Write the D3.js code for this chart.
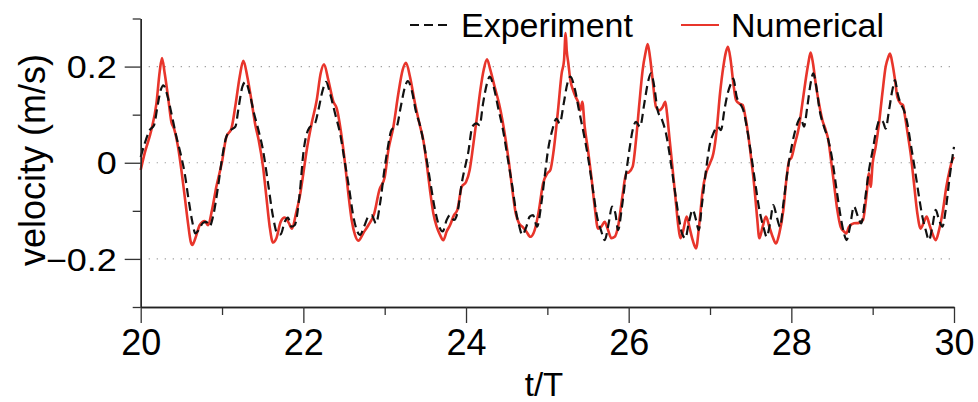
<!DOCTYPE html>
<html>
<head>
<meta charset="utf-8">
<script src="https://cdn.jsdelivr.net/npm/d3@7"></script>
<style>
  body { margin: 0; background: #fff; }
  text { font-family: "Liberation Sans", Arial, Helvetica, sans-serif; fill: #000; }
</style>
</head>
<body>
<div id="chart"></div>
<script>
// Data: [t/T, velocity (m/s)]
const experiment = [
  [20.000,0.012],[20.049,0.040],[20.111,0.068],[20.164,0.078],[20.205,0.116],[20.246,0.151],[20.279,0.161],[20.328,0.140],[20.377,0.103],[20.439,0.054],[20.500,0.012],[20.541,-0.022],[20.590,-0.078],[20.635,-0.123],[20.672,-0.147],[20.713,-0.140],[20.766,-0.125],[20.807,-0.123],[20.848,-0.132],[20.889,-0.112],[20.951,-0.050],
  [21.000,0.009],[21.053,0.054],[21.115,0.069],[21.164,0.075],[21.205,0.116],[21.250,0.158],[21.287,0.168],[21.340,0.144],[21.393,0.103],[21.443,0.071],[21.504,0.026],[21.566,-0.043],[21.627,-0.112],[21.680,-0.147],[21.721,-0.149],[21.770,-0.123],[21.811,-0.114],[21.852,-0.133],[21.893,-0.130],[21.955,-0.064],
  [22.000,0.020],[22.074,0.073],[22.143,0.082],[22.184,0.109],[22.238,0.151],[22.279,0.168],[22.328,0.144],[22.389,0.103],[22.451,0.061],[22.512,-0.001],[22.566,-0.057],[22.615,-0.112],[22.664,-0.143],[22.697,-0.150],[22.746,-0.133],[22.799,-0.112],[22.840,-0.109],[22.893,-0.126],[22.943,-0.085],
  [23.000,-0.010],[23.033,0.026],[23.086,0.069],[23.148,0.076],[23.197,0.116],[23.250,0.158],[23.283,0.170],[23.332,0.151],[23.385,0.106],[23.434,0.078],[23.496,0.026],[23.557,-0.036],[23.619,-0.098],[23.672,-0.133],[23.713,-0.143],[23.762,-0.119],[23.803,-0.109],[23.852,-0.119],[23.893,-0.105],[23.947,-0.043],
  [24.000,0.000],[24.025,0.019],[24.078,0.075],[24.127,0.082],[24.168,0.078],[24.209,0.123],[24.258,0.165],[24.291,0.179],[24.340,0.158],[24.393,0.116],[24.455,0.068],[24.516,0.006],[24.570,-0.050],[24.611,-0.098],[24.652,-0.130],[24.692,-0.150],[24.742,-0.133],[24.783,-0.112],[24.824,-0.109],[24.873,-0.133],[24.926,-0.085],[24.967,-0.029],
  [25.008,0.026],[25.061,0.068],[25.111,0.092],[25.152,0.082],[25.201,0.123],[25.246,0.165],[25.283,0.179],[25.336,0.155],[25.389,0.109],[25.447,0.061],[25.500,0.012],[25.561,-0.057],[25.611,-0.112],[25.664,-0.143],[25.705,-0.161],[25.754,-0.126],[25.795,-0.091],[25.836,-0.105],[25.869,-0.140],[25.918,-0.091],[25.963,-0.029],
  [26.008,0.026],[26.049,0.068],[26.090,0.085],[26.139,0.075],[26.192,0.123],[26.234,0.165],[26.274,0.186],[26.315,0.158],[26.356,0.109],[26.410,0.089],[26.459,0.061],[26.508,0.012],[26.561,-0.050],[26.615,-0.112],[26.656,-0.147],[26.697,-0.157],[26.738,-0.126],[26.787,-0.098],[26.828,-0.119],[26.861,-0.140],[26.902,-0.085],[26.951,-0.015],
  [27.000,0.040],[27.041,0.061],[27.094,0.075],[27.135,0.068],[27.176,0.109],[27.217,0.144],[27.258,0.165],[27.287,0.175],[27.328,0.137],[27.369,0.123],[27.410,0.109],[27.451,0.075],[27.504,0.019],[27.557,-0.043],[27.607,-0.098],[27.656,-0.133],[27.697,-0.154],[27.738,-0.126],[27.779,-0.088],[27.820,-0.112],[27.861,-0.133],[27.902,-0.085],[27.955,-0.015],
  [28.000,0.030],[28.061,0.075],[28.115,0.094],[28.155,0.075],[28.196,0.116],[28.237,0.165],[28.270,0.186],[28.307,0.158],[28.348,0.109],[28.401,0.075],[28.455,0.047],[28.504,0.006],[28.557,-0.057],[28.606,-0.112],[28.647,-0.147],[28.680,-0.161],[28.721,-0.133],[28.770,-0.091],[28.819,-0.112],[28.860,-0.126],[28.905,-0.078],[28.955,-0.015],
  [29.000,0.026],[29.045,0.068],[29.086,0.089],[29.127,0.085],[29.160,0.071],[29.201,0.109],[29.242,0.151],[29.275,0.172],[29.307,0.144],[29.344,0.123],[29.385,0.109],[29.426,0.082],[29.467,0.040],[29.520,-0.015],[29.570,-0.071],[29.611,-0.112],[29.652,-0.140],[29.693,-0.161],[29.734,-0.133],[29.775,-0.098],[29.816,-0.119],[29.857,-0.133],[29.898,-0.098],[29.947,-0.029],[30.000,0.033]
];

const numerical = [
  [20.000,-0.015],[20.049,0.020],[20.131,0.068],[20.193,0.123],[20.234,0.190],[20.262,0.218],[20.295,0.186],[20.336,0.137],[20.377,0.085],[20.410,0.071],[20.459,0.033],[20.500,-0.015],[20.541,-0.070],[20.582,-0.126],[20.615,-0.164],[20.635,-0.171],[20.672,-0.157],[20.725,-0.130],[20.787,-0.121],[20.828,-0.130],[20.877,-0.098],[20.930,-0.050],
  [21.000,0.002],[21.053,0.054],[21.115,0.071],[21.168,0.123],[21.217,0.179],[21.262,0.212],[21.311,0.179],[21.361,0.130],[21.410,0.078],[21.451,0.047],[21.504,-0.008],[21.545,-0.071],[21.586,-0.133],[21.627,-0.166],[21.668,-0.157],[21.721,-0.123],[21.770,-0.114],[21.820,-0.125],[21.861,-0.137],[21.910,-0.105],[21.955,-0.071],
  [22.000,-0.022],[22.041,0.026],[22.102,0.082],[22.164,0.130],[22.213,0.186],[22.254,0.205],[22.307,0.172],[22.369,0.127],[22.410,0.113],[22.471,0.054],[22.512,-0.001],[22.553,-0.064],[22.594,-0.119],[22.635,-0.150],[22.676,-0.162],[22.738,-0.146],[22.799,-0.130],[22.869,-0.107],[22.934,-0.057],
  [23.000,-0.030],[23.045,0.026],[23.107,0.075],[23.168,0.144],[23.221,0.193],[23.262,0.208],[23.311,0.179],[23.373,0.123],[23.426,0.082],[23.475,0.047],[23.516,-0.001],[23.557,-0.057],[23.598,-0.105],[23.639,-0.133],[23.680,-0.150],[23.721,-0.161],[23.762,-0.143],[23.803,-0.130],[23.852,-0.109],[23.893,-0.098],[23.947,-0.050],
  [24.000,-0.040],[24.045,-0.015],[24.086,0.033],[24.135,0.096],[24.176,0.151],[24.217,0.193],[24.258,0.215],[24.299,0.193],[24.352,0.158],[24.406,0.123],[24.447,0.089],[24.488,0.047],[24.529,-0.001],[24.570,-0.057],[24.611,-0.105],[24.652,-0.126],[24.692,-0.133],[24.742,-0.143],[24.791,-0.154],[24.844,-0.140],[24.897,-0.098],[24.947,-0.043],
  [25.000,-0.022],[25.037,-0.015],[25.078,0.026],[25.131,0.109],[25.176,0.186],[25.205,0.213],[25.225,0.270],[25.238,0.234],[25.258,0.207],[25.283,0.172],[25.316,0.151],[25.348,0.137],[25.377,0.127],[25.406,0.109],[25.430,0.127],[25.459,0.075],[25.500,0.026],[25.541,-0.029],[25.582,-0.091],[25.623,-0.137],[25.664,-0.133],[25.705,-0.123],[25.746,-0.140],[25.787,-0.157],[25.828,-0.154],[25.869,-0.133],[25.922,-0.071],[25.971,-0.022],
  [26.000,-0.020],[26.049,-0.008],[26.090,0.047],[26.131,0.123],[26.172,0.193],[26.205,0.227],[26.234,0.247],[26.262,0.220],[26.295,0.172],[26.336,0.116],[26.377,0.109],[26.418,0.116],[26.451,0.127],[26.471,0.103],[26.500,0.054],[26.533,-0.001],[26.574,-0.071],[26.611,-0.133],[26.635,-0.157],[26.672,-0.140],[26.713,-0.112],[26.746,-0.133],[26.787,-0.161],[26.828,-0.178],[26.869,-0.126],[26.910,-0.057],[26.951,-0.022],
  [27.000,-0.001],[27.041,0.019],[27.082,0.068],[27.123,0.144],[27.164,0.200],[27.197,0.231],[27.221,0.241],[27.254,0.213],[27.287,0.165],[27.320,0.130],[27.361,0.123],[27.402,0.120],[27.434,0.096],[27.467,0.061],[27.504,0.012],[27.545,-0.050],[27.578,-0.112],[27.607,-0.157],[27.647,-0.133],[27.688,-0.112],[27.729,-0.133],[27.770,-0.154],[27.811,-0.168],[27.852,-0.147],[27.902,-0.098],[27.943,-0.029],[27.975,0.006],
  [28.000,0.010],[28.045,0.040],[28.094,0.075],[28.135,0.123],[28.176,0.172],[28.209,0.207],[28.237,0.229],[28.266,0.207],[28.299,0.165],[28.340,0.123],[28.381,0.089],[28.422,0.068],[28.455,0.047],[28.483,0.012],[28.524,-0.043],[28.565,-0.098],[28.606,-0.133],[28.647,-0.143],[28.676,-0.147],[28.709,-0.133],[28.770,-0.126],[28.832,-0.125],[28.881,-0.119],[28.922,-0.071],[28.955,-0.022],[28.975,-0.050],
  [29.000,-0.001],[29.037,0.033],[29.078,0.082],[29.119,0.144],[29.160,0.200],[29.193,0.220],[29.213,0.227],[29.242,0.207],[29.275,0.172],[29.303,0.137],[29.344,0.123],[29.373,0.120],[29.398,0.096],[29.430,0.061],[29.467,0.019],[29.508,-0.043],[29.549,-0.105],[29.590,-0.137],[29.631,-0.123],[29.664,-0.112],[29.693,-0.126],[29.734,-0.147],[29.775,-0.161],[29.816,-0.140],[29.865,-0.098],[29.906,-0.050],[29.947,-0.015],[29.980,0.006],[30.000,0.012]
];

// Ticks and labels
const xMajorTicks = [20, 22, 24, 26, 28, 30];
const xMinorTicks = [21, 23, 25, 27, 29];
const yMajorTicks = [-0.2, 0, 0.2];
const yMinorTicks = [-0.3, -0.1, 0.1, 0.3];
const gridValues = [-0.2, 0, 0.2];
const legendLabels = ["Experiment", "Numerical"];
const xLabel = "t/T";
const yLabel = "velocity (m/s)";

const width = 978;
const height = 402;
const red = "#e8352b";

const svg = d3.select("#chart")
    .append("svg")
    .attr("width", width)
    .attr("height", height);

// Scales
const x = d3.scaleLinear().domain([20, 30]).range([140.7, 954]);
const y = d3.scaleLinear().domain([-0.3, 0.3]).range([307, 18.5]);

// Dotted grid lines
svg.append("g")
    .selectAll("line")
    .data(gridValues)
    .enter().append("line")
    .attr("x1", x(20))
    .attr("x2", x(30))
    .attr("y1", d => y(d))
    .attr("y2", d => y(d))
    .attr("stroke", "#999")
    .attr("stroke-width", 1.2)
    .attr("stroke-dasharray", "1.2,6.8");

// Curves
const line = d3.line()
    .x(d => x(d[0]))
    .y(d => y(d[1]))
    .curve(d3.curveMonotoneX);

svg.append("path")
    .datum(numerical)
    .attr("fill", "none")
    .attr("stroke", red)
    .attr("stroke-width", 2.6)
    .attr("stroke-linejoin", "round")
    .attr("d", line);

svg.append("path")
    .datum(experiment)
    .attr("fill", "none")
    .attr("stroke", "#111")
    .attr("stroke-width", 2.2)
    .attr("stroke-dasharray", "9,5")
    .attr("d", line);

// Axes
const styleAxis = g => {
    g.selectAll(".domain").attr("stroke", "#222").attr("stroke-width", 1.3);
    g.selectAll(".tick line").attr("stroke", "#333").attr("stroke-width", 1.3);
};

svg.append("g")
    .attr("transform", `translate(0,${y(-0.3)})`)
    .call(d3.axisBottom(x).tickValues(xMinorTicks).tickSize(8).tickSizeOuter(0).tickFormat(""))
    .call(styleAxis);

svg.append("g")
    .attr("transform", `translate(0,${y(-0.3)})`)
    .call(d3.axisBottom(x).tickValues(xMajorTicks).tickSize(16).tickSizeOuter(0).tickPadding(6).tickFormat(d3.format("d")))
    .call(styleAxis)
    .call(g => g.selectAll("text").attr("font-size", "36px").attr("fill", "#000"));

svg.append("g")
    .attr("transform", `translate(${x(20)},0)`)
    .call(d3.axisLeft(y).tickValues(yMinorTicks).tickSize(8).tickSizeOuter(0).tickFormat(""))
    .call(styleAxis);

svg.append("g")
    .attr("transform", `translate(${x(20)},0)`)
    .call(d3.axisLeft(y).tickValues(yMajorTicks).tickSize(16).tickSizeOuter(0).tickPadding(8)
        .tickFormat(d => d === 0 ? "0" : d3.format(".1f")(d)))
    .call(styleAxis)
    .call(g => g.selectAll("text")
        .attr("font-size", "36px")
        .attr("fill", "#000")
        .attr("dy", "0.36em")
        .attr("transform", "scale(1,0.86)"));

// Axis titles
svg.append("text")
    .attr("x", 544)
    .attr("y", 396)
    .attr("text-anchor", "middle")
    .attr("font-size", "33px")
    .text(xLabel);

svg.append("text")
    .attr("transform", "translate(45,160) rotate(-90)")
    .attr("text-anchor", "middle")
    .attr("font-size", "36px")
    .text(yLabel);

// Legend
const legend = svg.append("g");

legend.append("line")
    .attr("x1", 410).attr("x2", 452)
    .attr("y1", 25).attr("y2", 25)
    .attr("stroke", "#111")
    .attr("stroke-width", 2)
    .attr("stroke-dasharray", "9,5");

legend.append("line")
    .attr("x1", 681).attr("x2", 719)
    .attr("y1", 25).attr("y2", 25)
    .attr("stroke", red)
    .attr("stroke-width", 2);

legend.selectAll("text")
    .data(legendLabels)
    .enter().append("text")
    .attr("x", (d, i) => i === 0 ? 461 : 731)
    .attr("y", 37)
    .attr("font-size", "34px")
    .text(d => d);
</script>
</body>
</html>
